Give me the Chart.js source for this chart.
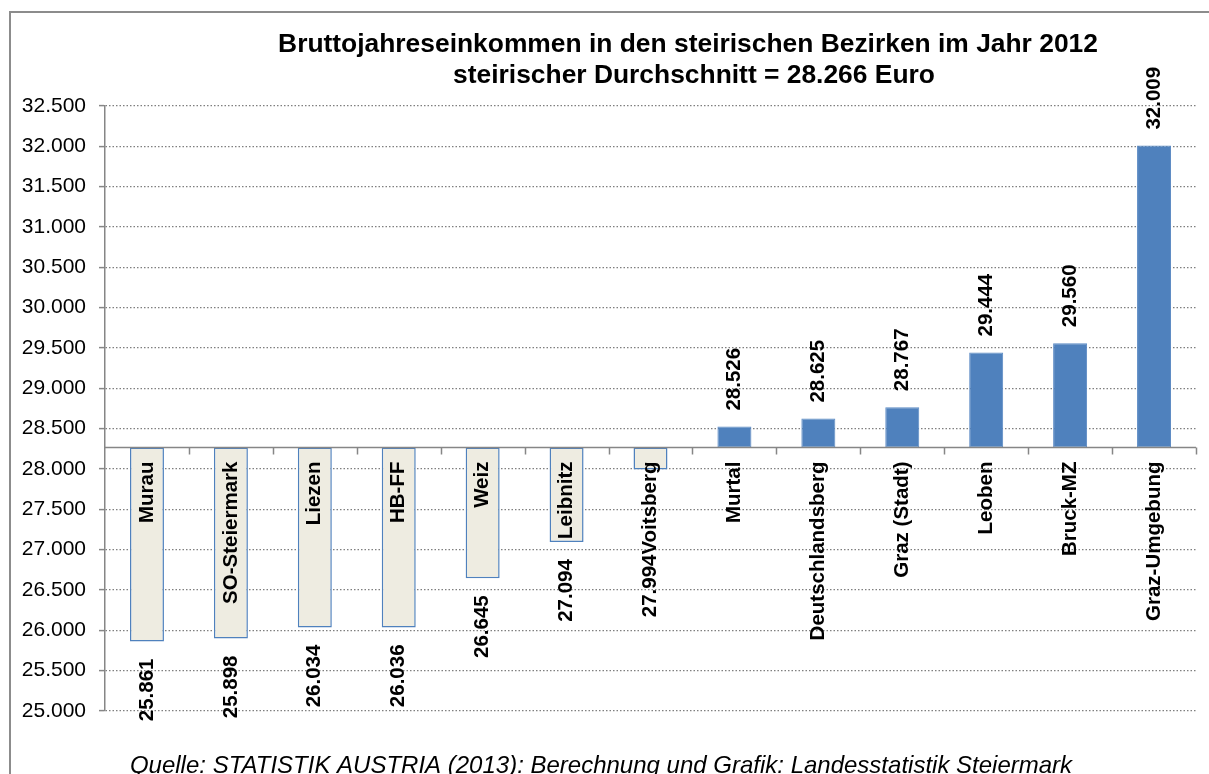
<!DOCTYPE html>
<html>
<head>
<meta charset="utf-8">
<script src="https://cdn.jsdelivr.net/npm/chart.js@4"></script>
<style>
  html, body { margin: 0; padding: 0; background: #fff; }
  #wrap { width: 1209px; height: 774px; position: relative; }
</style>
</head>
<body>
<div id="wrap"><canvas id="incomeChart"></canvas></div>
<script>
const districts = ["Murau", "SO-Steiermark", "Liezen", "HB-FF", "Weiz", "Leibnitz", "Voitsberg",
  "Murtal", "Deutschlandsberg", "Graz (Stadt)", "Leoben", "Bruck-MZ", "Graz-Umgebung"];
const income = [25861, 25898, 26034, 26036, 26645, 27094, 27994,
  28526, 28625, 28767, 29444, 29560, 32009];
const styriaAverage = 28266;
const yTicks = [25000, 25500, 26000, 26500, 27000, 27500, 28000, 28500,
  29000, 29500, 30000, 30500, 31000, 31500, 32000, 32500];
const titleLines = ["Bruttojahreseinkommen in den steirischen Bezirken im Jahr 2012",
  "steirischer Durchschnitt = 28.266 Euro"];
const sourceNote = "Quelle: STATISTIK AUSTRIA (2013): Berechnung und Grafik: Landesstatistik Steiermark";

const FONT = '"Liberation Sans", Arial, sans-serif';
const BLUE = "#4f81bd";
const BEIGE = "#eeece1";
const AXIS_GREY = "#868686";

function fmt(v) {
  return String(v).replace(/\B(?=(\d{3})+(?!\d))/g, ".");
}

// labels, category axis at the average, title and frame
const decorations = {
  id: "decorations",
  beforeDraw(chart) {
    const ctx = chart.ctx;
    ctx.save();
    ctx.fillStyle = "#fff";
    ctx.fillRect(0, 0, chart.width, chart.height);
    ctx.strokeStyle = "#8c8c8c";
    ctx.lineWidth = 2;
    ctx.strokeRect(10, 12, 1220, 800);
    ctx.restore();
  },
  afterDatasetsDraw(chart) {
    const ctx = chart.ctx;
    const x = chart.scales.x;
    const y = chart.scales.y;
    const area = chart.chartArea;
    const baseY = y.getPixelForValue(styriaAverage);
    const step = (area.right - area.left) / districts.length;

    ctx.save();
    // category axis line drawn at the average
    ctx.strokeStyle = AXIS_GREY;
    ctx.lineWidth = 1.5;
    ctx.beginPath();
    ctx.moveTo(area.left, baseY);
    ctx.lineTo(area.right, baseY);
    for (let i = 1; i <= districts.length; i++) {
      const tx = Math.round(area.left + i * step) + 0.5;
      ctx.moveTo(tx, baseY);
      ctx.lineTo(tx, baseY + 7);
    }
    ctx.stroke();

    ctx.fillStyle = "#000";
    ctx.font = "bold 20.5px " + FONT;
    ctx.textBaseline = "middle";
    districts.forEach((name, i) => {
      const cx = x.getPixelForValue(i);
      const vy = y.getPixelForValue(income[i]);
      const catTop = baseY + 14;
      const catEnd = catTop + ctx.measureText(name).width;

      ctx.save();
      ctx.translate(cx, catTop);
      ctx.rotate(-Math.PI / 2);
      ctx.textAlign = "right";
      ctx.fillText(name, 0, 0);
      ctx.restore();

      ctx.save();
      if (income[i] < styriaAverage) {
        const start = Math.max(vy + 17, catEnd);
        ctx.translate(cx, start);
        ctx.rotate(-Math.PI / 2);
        ctx.textAlign = "right";
      } else {
        ctx.translate(cx, vy - 16);
        ctx.rotate(-Math.PI / 2);
        ctx.textAlign = "left";
      }
      ctx.fillText(fmt(income[i]), 0, 0);
      ctx.restore();
    });

    // title
    ctx.textAlign = "center";
    ctx.font = "bold 26.4px " + FONT;
    ctx.fillText(titleLines[0], 688, 45);
    ctx.fillText(titleLines[1], 694, 76);

    // source
    ctx.font = "italic 24px " + FONT;
    ctx.textBaseline = "alphabetic";
    ctx.fillText(sourceNote, 601, 773);
    ctx.restore();
  }
};

const data = {
  labels: districts,
  datasets: [{
    data: income.map(v => [styriaAverage, v]),
    backgroundColor: income.map(v => v < styriaAverage ? BEIGE : BLUE),
    borderColor: income.map(v => v < styriaAverage ? BLUE : "#5b8ac4"),
    borderWidth: income.map(v => v < styriaAverage ? 1.5 : 1),
    borderSkipped: false,
    categoryPercentage: 1,
    barPercentage: 0.405
  }]
};

const config = {
  type: "bar",
  data: data,
  options: {
    responsive: true,
    maintainAspectRatio: false,
    animation: false,
    layout: {
      padding: { left: 0, top: 106, right: 13, bottom: 63 }
    },
    plugins: {
      legend: { display: false },
      tooltip: { enabled: false },
      title: { display: false }
    },
    scales: {
      x: {
        display: false
      },
      y: {
        min: 25000,
        max: 32500,
        afterFit(scale) { scale.width = 105; },
        afterBuildTicks(scale) { scale.ticks = yTicks.map(v => ({ value: v })); },
        ticks: {
          padding: 13,
          color: "#000",
          font: { family: FONT, size: 21 },
          callback: v => fmt(v)
        },
        grid: {
          color: "#7f7f7f",
          lineWidth: 1.2,
          tickLength: 6,
          tickColor: AXIS_GREY,
          tickWidth: 1.5
        },
        border: {
          display: true,
          color: AXIS_GREY,
          width: 1.5,
          dash: [1.5, 2]
        }
      }
    }
  },
  plugins: [decorations]
};

new Chart(document.getElementById("incomeChart").getContext("2d"), config);
</script>
</body>
</html>
